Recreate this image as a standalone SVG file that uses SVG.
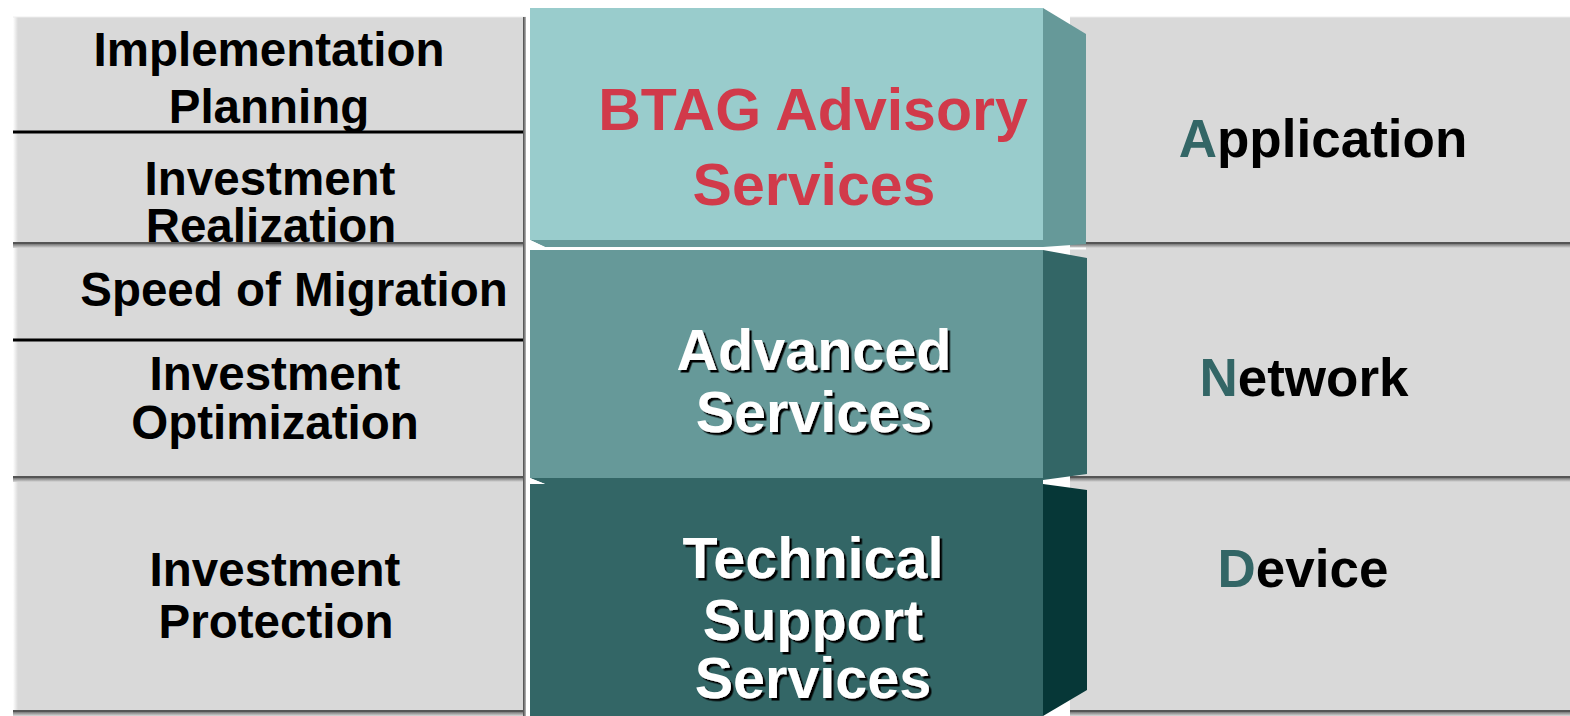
<svg xmlns="http://www.w3.org/2000/svg" width="1570" height="716" viewBox="0 0 1570 716">
<style>
.panel{fill:#D9D9D9}
.edge{stroke:#555;stroke-width:2}
.div{stroke:#000;stroke-width:3}
.lbl{font-family:"Liberation Sans",Arial,sans-serif;font-weight:bold;fill:#000;text-anchor:middle}
.left{font-size:47.5px}
.right{font-size:53px}
.big{font-family:"Liberation Sans",Arial,sans-serif;font-weight:bold;text-anchor:middle;font-size:57.5px}
.bigr{font-size:59px}
.red{fill:#D13A4A}
.white{fill:#FFF;filter:url(#ts)}
.hl{fill:#336666}
</style>
<defs>
<linearGradient id="sh" x1="0" y1="0" x2="0" y2="1">
<stop offset="0" stop-color="#777"/><stop offset="1" stop-color="#D9D9D9"/>
</linearGradient>
<linearGradient id="lh" x1="0" y1="0" x2="1" y2="0">
<stop offset="0" stop-color="#FFF"/><stop offset="1" stop-color="#D9D9D9"/>
</linearGradient>
<linearGradient id="rs" x1="0" y1="0" x2="1" y2="0">
<stop offset="0" stop-color="#444"/><stop offset="1" stop-color="#BBB"/>
</linearGradient>
<filter id="ts" x="-10%" y="-10%" width="130%" height="140%">
<feDropShadow dx="2.5" dy="2.5" stdDeviation="0" flood-color="#000" flood-opacity="1"/>
</filter>
</defs>
<rect width="1570" height="716" fill="#FFF"/>

<g id="left-column">
<g id="left-top">
<rect class="panel" x="13" y="17" width="513" height="227"/>
<rect x="13" y="17" width="5" height="227" fill="url(#lh)"/>
<line x1="13" y1="17" x2="526" y2="17" stroke="#EEE" stroke-width="1"/>
<line class="div" x1="13" y1="132" x2="526" y2="132"/>
<text class="lbl left" x="269" y="66">Implementation</text>
<text class="lbl left" x="269" y="123">Planning</text>
<text class="lbl left" x="270" y="195">Investment</text>
<text class="lbl left" x="271" y="242">Realization</text>
</g>
<g id="left-middle">
<rect class="panel" x="13" y="248" width="513" height="230"/>
<rect x="13" y="248" width="5" height="230" fill="url(#lh)"/>
<line class="div" x1="13" y1="340" x2="526" y2="340"/>
<text class="lbl left" x="294" y="306">Speed of Migration</text>
<text class="lbl left" x="275" y="390">Investment</text>
<text class="lbl left" x="275" y="439">Optimization</text>
</g>
<g id="left-bottom">
<rect class="panel" x="13" y="482" width="513" height="230"/>
<rect x="13" y="482" width="5" height="230" fill="url(#lh)"/>
<text class="lbl left" x="275" y="586">Investment</text>
<text class="lbl left" x="276" y="638">Protection</text>
</g>
<rect x="13" y="244" width="513" height="4" fill="url(#sh)"/>
<rect x="13" y="478" width="513" height="4" fill="url(#sh)"/>
<rect x="13" y="712" width="513" height="4" fill="url(#sh)"/>
<line class="edge" x1="13" y1="243" x2="526" y2="243"/>
<line class="edge" x1="13" y1="477" x2="526" y2="477"/>
<line class="edge" x1="13" y1="711" x2="526" y2="711"/>
<rect x="523" y="17" width="3" height="699" fill="url(#rs)"/>
</g>

<g id="right-column">
<g id="right-top">
<rect class="panel" x="1070" y="17" width="500" height="227"/>
<line x1="1070" y1="17" x2="1570" y2="17" stroke="#EEE" stroke-width="1"/>
<text class="lbl right" x="1323" y="157"><tspan class="hl">A</tspan>pplication</text>
</g>
<g id="right-middle">
<rect class="panel" x="1070" y="248" width="500" height="230"/>
<text class="lbl right" x="1304" y="396"><tspan class="hl">N</tspan>etwork</text>
</g>
<g id="right-bottom">
<rect class="panel" x="1070" y="482" width="500" height="230"/>
<text class="lbl right" x="1303" y="587"><tspan class="hl">D</tspan>evice</text>
</g>
<rect x="1070" y="244" width="500" height="4" fill="url(#sh)"/>
<rect x="1070" y="478" width="500" height="4" fill="url(#sh)"/>
<rect x="1070" y="712" width="500" height="4" fill="url(#sh)"/>
<line class="edge" x1="1070" y1="243" x2="1570" y2="243"/>
<line class="edge" x1="1070" y1="477" x2="1570" y2="477"/>
<line class="edge" x1="1070" y1="711" x2="1570" y2="711"/>
</g>

<g id="center-stack">
<g id="btag-advisory">
<rect x="530" y="8" width="513" height="232" fill="#99CCCC"/>
<polygon points="530,240 1043,240 1043,247 545,247" fill="#669999"/>
<polygon points="530,240 545,247 530,247" fill="#FFF"/>
<polygon points="1043,8 1086,34 1086,244 1043,247" fill="#669999"/>
<line x1="530" y1="248.5" x2="1086" y2="248.5" stroke="#FFF" stroke-width="2"/>
<text class="big bigr red" x="813" y="130">BTAG Advisory</text>
<text class="big bigr red" x="814" y="205">Services</text>
</g>
<g id="advanced-services">
<rect x="530" y="250" width="513" height="228" fill="#669999"/>
<polygon points="530,478 1043,478 1043,484 545,484" fill="#336666"/>
<polygon points="530,478 545,484 530,484" fill="#FFF"/>
<polygon points="1043,250 1087,258 1087,474 1043,480" fill="#336666"/>
<text class="big white" x="814" y="370">Advanced</text>
<text class="big white" x="814" y="432">Services</text>
</g>
<g id="technical-support-services">
<rect x="530" y="484" width="513" height="232" fill="#336666"/>
<polygon points="1043,484 1087,490 1087,690 1043,716" fill="#063737"/>
<text class="big white" x="813" y="578">Technical</text>
<text class="big white" x="813" y="640">Support</text>
<text class="big white" x="813" y="698">Services</text>
</g>
</g>

<g id="connectors"></g>
</svg>
